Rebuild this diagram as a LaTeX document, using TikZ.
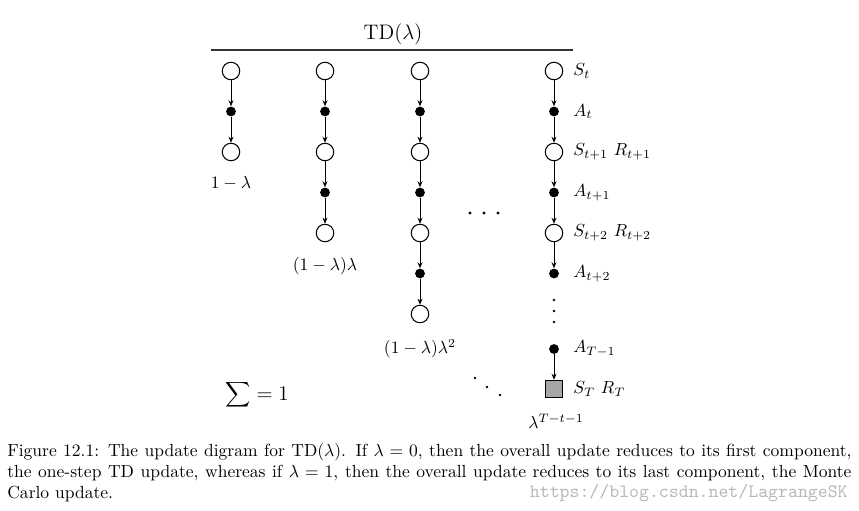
\documentclass[tikz,border=0pt]{standalone}
\usetikzlibrary{arrows.meta}
\begin{document}
\begin{tikzpicture}[x=0.571pt,y=-0.571pt,
  st/.style={circle,draw,line width=0.6pt,minimum size=10pt,inner sep=0pt},
  act/.style={circle,fill,inner sep=0pt,minimum size=5.6pt},
  term/.style={draw,line width=0.6pt,fill=black!35,minimum size=10pt,inner sep=0pt},
  arr/.style={line width=0.55pt,-{Stealth[length=3.4pt,width=2.8pt]}},
  lab/.style={anchor=west,inner sep=0pt}]
\useasboundingbox (0,0) rectangle (859,511);
% title
\node (title) at (393,34) {\large TD($\lambda$)};
\coordinate (tl) at (211,50);
\coordinate (tr) at (573,50);
\draw[line width=0.7pt,black!80] (tl) -- (tr);
% first three columns
\foreach \x/\n [count=\c] in {231/1,325/2,420/3}{
  \node[st] (c\c-s0) at (\x,71) {};
  \foreach \i in {1,...,\n}{
    \pgfmathsetmacro\ys{71+81*\i}
    \pgfmathsetmacro\ya{71+81*\i-40.5}
    \pgfmathtruncatemacro\j{\i-1}
    \node[act] (c\c-a\i) at (\x,\ya) {};
    \node[st] (c\c-s\i) at (\x,\ys) {};
    \draw[arr] (c\c-s\j) -- (c\c-a\i);
    \draw[arr] (c\c-a\i) -- (c\c-s\i);
  }
}
\node (w1) at (231,183) {$1-\lambda$};
\node (w2) at (325,266) {$(1-\lambda)\lambda$};
\node (w3) at (420,349) {$(1-\lambda)\lambda^2$};
% last column
\node[st] (d-s0) at (554,71) {};
\node[act] (d-a1) at (554,111.5) {};
\node[st] (d-s1) at (554,152) {};
\node[act] (d-a2) at (554,192.5) {};
\node[st] (d-s2) at (554,233) {};
\node[act] (d-a3) at (554,273.5) {};
\node[act] (d-a4) at (554,349) {};
\node[term] (d-s4) at (554,389) {};
\draw[arr] (d-s0) -- (d-a1);
\draw[arr] (d-a1) -- (d-s1);
\draw[arr] (d-s1) -- (d-a2);
\draw[arr] (d-a2) -- (d-s2);
\draw[arr] (d-s2) -- (d-a3);
\draw[arr] (d-a4) -- (d-s4);
\fill (554,300) circle[radius=0.75pt] (554,311) circle[radius=0.75pt] (554,322) circle[radius=0.75pt];
\node[lab] (l0) at (573,71) {$S_t$};
\node[lab] (l1) at (573,111.5) {$A_t$};
\node[lab] (l2) at (573,152) {$S_{t+1}\ R_{t+1}$};
\node[lab] (l3) at (573,192.5) {$A_{t+1}$};
\node[lab] (l4) at (573,233) {$S_{t+2}\ R_{t+2}$};
\node[lab] (l5) at (573,273.5) {$A_{t+2}$};
\node[lab] (l6) at (573,349) {$A_{T-1}$};
\node[lab] (l7) at (573,389) {$S_T\ R_T$};
\node (w4) at (556,421) {$\lambda^{T-t-1}$};
% dots
\fill (470,213) circle[radius=0.95pt] (484,213) circle[radius=0.95pt] (498,213) circle[radius=0.95pt];
\fill (475,378) circle[radius=0.85pt] (487,387) circle[radius=0.85pt] (500,395) circle[radius=0.85pt];
% sum
\node (sum) at (257,395) {\large $\displaystyle\sum=1$};
% caption
\node[anchor=north west,inner sep=0pt,text width=482pt,align=justify] (cap) at (7,443)
{Figure 12.1: The update digram for TD($\lambda$). If $\lambda=0$, then the overall update reduces to its first component, the one-step TD update, whereas if $\lambda=1$, then the overall update reduces to its last component, the Monte Carlo update.};
\node[anchor=base east,inner sep=0pt,text=black!28] (wm) at (848,497) {\fontsize{10.8}{12}\selectfont\ttfamily https://blog.csdn.net/LagrangeSK};
\end{tikzpicture}
\end{document}
